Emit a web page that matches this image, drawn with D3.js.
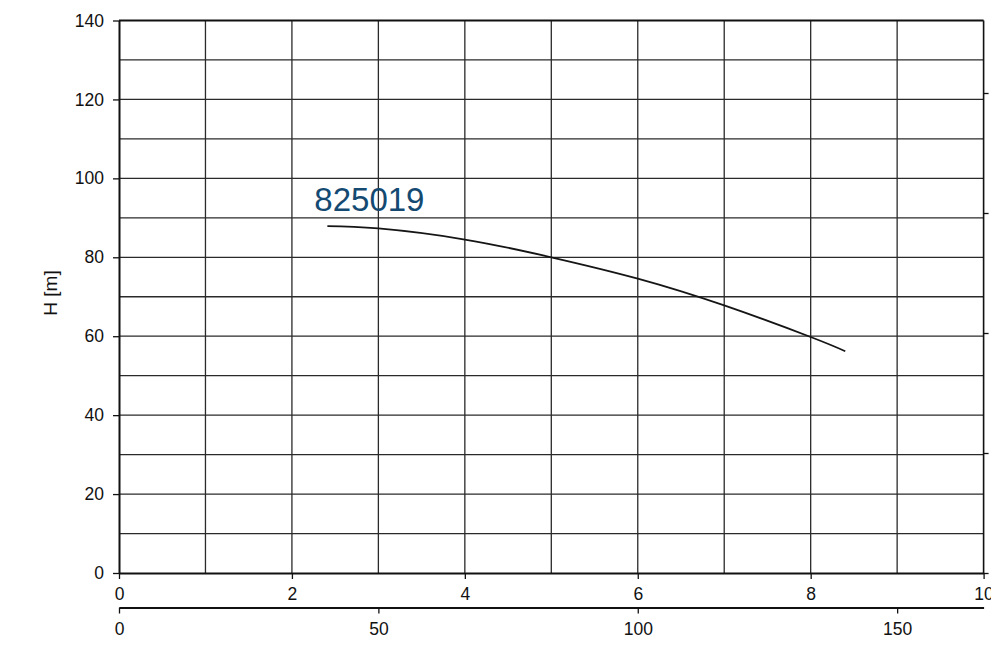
<!DOCTYPE html>
<html><head><meta charset="utf-8">
<script src="https://cdn.jsdelivr.net/npm/d3@7"></script>
<style>
html,body{margin:0;padding:0;background:#fff;overflow:hidden;}
svg text{font-family:"Liberation Sans",Arial,Helvetica,sans-serif;}
</style></head>
<body>
<svg id="chart" width="991" height="656"></svg>
<script>
// Data
const curveLabel = "825019";
const flowM3h = [2.41, 3, 4, 5, 6, 7, 8, 8.4];
const headM   = [87.9, 87.3, 84.5, 80.0, 74.6, 67.8, 59.8, 56.2];
const yTicks = [0, 20, 40, 60, 80, 100, 120, 140];
const xTicks = [0, 2, 4, 6, 8, 10];
const x2Ticks = [0, 50, 100, 150];
const yLabel = "H [m]";

(function () {
const svg = d3.select("#chart");
const pL = 119, pR = 983.6, pT = 20.5, pB = 573;
const x = d3.scaleLinear().domain([0, 10]).range([pL, pR]);
const x2 = d3.scaleLinear().domain([0, 10 * 1000 / 60]).range([pL, pR]);
const y = d3.scaleLinear().domain([0, 140]).range([pB, pT]);
const yR = d3.scaleLinear().domain([0, 4]).range([pB, 93]);

// grid
const g = svg.append("g");
g.selectAll("line.v").data(d3.range(1, 10)).join("line")
  .attr("x1", d => x(d)).attr("x2", d => x(d)).attr("y1", pT).attr("y2", pB)
  .attr("stroke", "#2a2a2a").attr("stroke-width", 1.3);
g.selectAll("line.h").data(d3.range(10, 140, 10)).join("line")
  .attr("y1", d => y(d)).attr("y2", d => y(d)).attr("x1", pL).attr("x2", pR)
  .attr("stroke", "#2a2a2a").attr("stroke-width", 1.3);

// borders
svg.append("line").attr("x1", pL).attr("x2", pR).attr("y1", pT).attr("y2", pT).attr("stroke", "#111").attr("stroke-width", 2);
svg.append("line").attr("x1", pR).attr("x2", pR).attr("y1", pT).attr("y2", pB).attr("stroke", "#111").attr("stroke-width", 1.6);

function styleAxis(sel, sw) {
  sel.select(".domain").attr("stroke", "#111").attr("stroke-width", sw);
  sel.selectAll(".tick line").attr("stroke", "#111").attr("stroke-width", 1.3);
  sel.selectAll(".tick text").attr("fill", "#111").style("font-size", "17.5px")
     .style("font-family", "'Liberation Sans',Arial,sans-serif");
}

// left axis
const ya = svg.append("g").attr("transform", `translate(${pL},0)`)
  .call(d3.axisLeft(y).tickValues(yTicks).tickSize(6).tickSizeOuter(0).tickPadding(9));
styleAxis(ya, 2);

// right unlabeled axis ticks
const yra = svg.append("g").attr("transform", `translate(${pR},0)`)
  .call(d3.axisRight(yR).tickValues([0,1,2,3,4]).tickSize(5).tickSizeOuter(0).tickFormat(""));
yra.select(".domain").remove();
yra.selectAll(".tick line").attr("stroke", "#111").attr("stroke-width", 1.3);

// bottom axis
const xa = svg.append("g").attr("transform", `translate(0,${pB})`)
  .call(d3.axisBottom(x).tickValues(xTicks).tickSize(6).tickSizeOuter(0).tickPadding(9));
styleAxis(xa, 2);

// second bottom axis (l/min)
const xa2 = svg.append("g").attr("transform", `translate(0,607.5)`)
  .call(d3.axisBottom(x2).tickValues(x2Ticks).tickSize(6).tickSizeOuter(0).tickPadding(9));
styleAxis(xa2, 2);

// y label
svg.append("text").attr("transform", "translate(57,293) rotate(-90)")
  .attr("text-anchor", "middle").attr("fill", "#111").style("font-size", "19px").text(yLabel);

// curve
const pts = flowM3h.map((q, i) => [q, headM[i]]);
const line = d3.line().x(d => x(d[0])).y(d => y(d[1])).curve(d3.curveNatural);
svg.append("path").datum(pts).attr("d", line).attr("fill", "none")
  .attr("stroke", "#151515").attr("stroke-width", 1.8);

// label
svg.append("text").attr("x", x(flowM3h[0]) - 13).attr("y", 211)
  .attr("fill", "#144a72").style("font-size", "33px").text(curveLabel);
})();
</script>
</body></html>
